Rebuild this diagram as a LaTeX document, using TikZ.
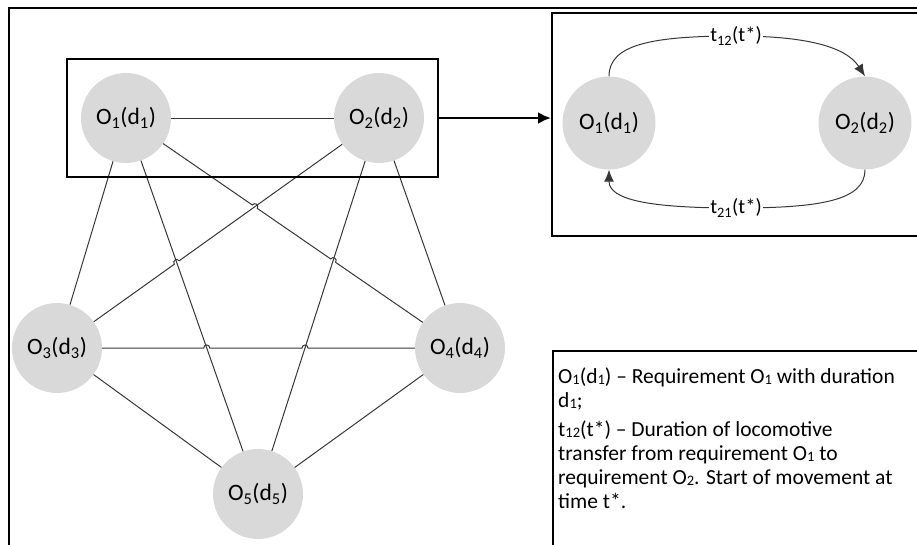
\documentclass[tikz,border=0pt]{standalone}
\usepackage{fontspec}
\setmainfont{Carlito}
\usetikzlibrary{arrows.meta,calc,fit}
\definecolor{nodegray}{RGB}{217,217,217}
\definecolor{edgegray}{RGB}{55,55,55}
\newcommand\hop[3]{-- ($(#1)!3pt!(#2)$) .. controls ($(#1)!3pt!(#2)!4pt!90:(#1)$) and ($(#1)!3pt!(#3)!4pt!-90:(#1)$) .. ($(#1)!3pt!(#3)$)}
\newcommand\ls[1]{\raisebox{-0.7pt}{\fontsize{14.5}{14.5}\selectfont #1}}
\tikzset{
  req/.style={circle, fill=nodegray, minimum size=90pt, inner sep=0pt,
    font=\fontsize{23.5}{28}\selectfont},
  edge/.style={draw=edgegray, line width=1pt},
  flow/.style={draw=edgegray, line width=1pt, -{Latex[length=12pt,width=10pt]}},
  lbl/.style={fill=white, inner sep=1pt, font=\fontsize{20.5}{24}\selectfont},
  frame/.style={draw=black, line width=2.5pt},
}
\begin{document}
\begin{tikzpicture}[x=1pt,y=-1pt]
\useasboundingbox (0,0) rectangle (917,544);
% outer frame
\draw[line width=2pt] (9,560) -- (9,8) -- (930,8);

% graph nodes
\node[req] (o1) at (126,118) {O\textsubscript{1}(d\textsubscript{1})};
\node[req] (o2) at (379,118) {O\textsubscript{2}(d\textsubscript{2})};
\node[req] (o3) at (57,348) {O\textsubscript{3}(d\textsubscript{3})};
\node[req] (o4) at (460,348) {O\textsubscript{4}(d\textsubscript{4})};
\node[req] (o5) at (258,494) {O\textsubscript{5}(d\textsubscript{5})};

\coordinate (x1) at (intersection of o1--o4 and o2--o3);
\coordinate (x2) at (intersection of o1--o4 and o2--o5);
\coordinate (x3) at (intersection of o2--o3 and o1--o5);
\coordinate (x4) at (intersection of o3--o4 and o1--o5);
\coordinate (x5) at (intersection of o3--o4 and o2--o5);

% edges
\draw[edge] (o1) -- (o2);
\draw[edge] (o1) -- (o3);
\draw[edge] (o1) -- (o5);
\draw[edge] (o2) -- (o5);
\draw[edge] (o2) -- (o4);
\draw[edge] (o3) -- (o5);
\draw[edge] (o4) -- (o5);
\draw[edge] (o1) \hop{x1}{o1}{o4} \hop{x2}{o1}{o4} -- (o4);
\draw[edge] (o3) \hop{x3}{o3}{o2} -- (o2);
\draw[edge] (o3) \hop{x4}{o3}{o4} \hop{x5}{o3}{o4} -- (o4);

% group box
\node[fit=(o1)(o2), inner sep=14pt, frame] (grp) {};

% right box
\node[frame, line width=2.2pt, anchor=north west, minimum width=380pt, minimum height=223pt, inner sep=0pt] (rbox) at (551,12) {};
\draw[line width=2.5pt, -{Latex[length=13pt,width=12pt]}] (grp.east) -- (grp.east -| rbox.west);

\node[req, minimum size=93pt] (a1) at (609,123) {O\textsubscript{1}(d\textsubscript{1})};
\node[req, minimum size=93pt] (a2) at (865,123) {O\textsubscript{2}(d\textsubscript{2})};

\draw[flow] (a1.north) .. controls (609,45) and (650,36) .. (736,36)
  node[lbl] (t12) {t\textsubscript{12}(t*)}
  .. controls (800,36) and (845,45) .. (a2.north);
\draw[flow] (a2.south) .. controls (865,200) and (822,208) .. (736,208)
  node[lbl] (t21) {t\textsubscript{21}(t*)}
  .. controls (650,208) and (609,200) .. (a1.south);

% legend
\node[draw, line width=1.5pt, anchor=north west, minimum width=380pt, minimum height=210pt, inner sep=0pt] (leg) at (552,350) {};
\node[anchor=north west, align=left, inner sep=0pt,
  font=\fontsize{21.5}{24}\selectfont] (legtext) at (558,368)
  {O\ls{1}(d\ls{1}) -- Requirement O\ls{1} with duration\\
   d\ls{1};\\[5pt]
   t\ls{12}(t*) -- Duration of locomotive\\
   transfer from requirement O\ls{1} to\\
   requirement O\ls{2}. Start of movement at\\
   time t*.};
\end{tikzpicture}
\end{document}
